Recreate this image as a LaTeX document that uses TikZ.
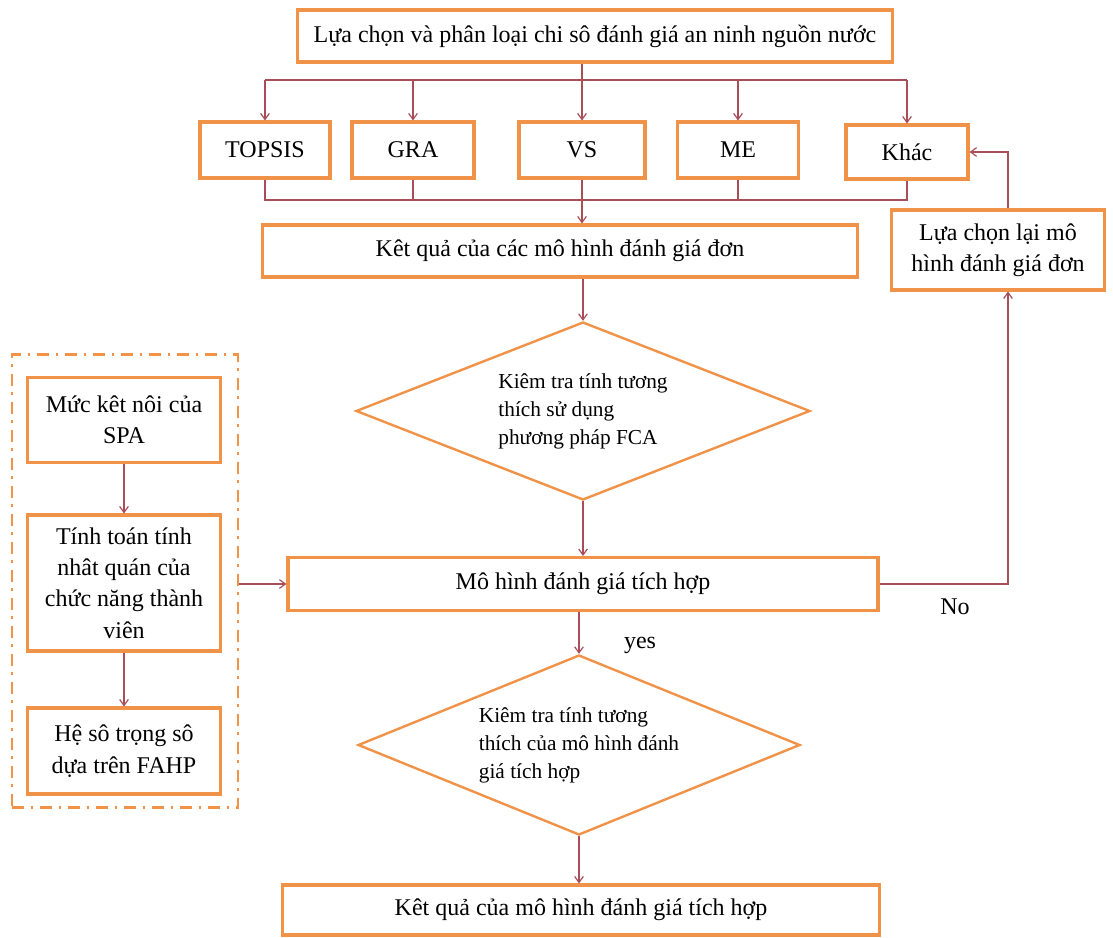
\documentclass[tikz,border=0pt]{standalone}
\usepackage{fontspec}
\setmainfont{Liberation Serif}
\usetikzlibrary{arrows.meta,shapes.geometric}
\definecolor{BoxClr}{RGB}{240,146,72}
\definecolor{LineClr}{RGB}{168,78,88}

\begin{document}
\begin{tikzpicture}[x=0.75pt,y=-0.75pt,
  size/.style 2 args={minimum width=#1*0.75pt,minimum height=#2*0.75pt},
  box/.style={draw=BoxClr,line width=2.3pt,fill=white,align=center,inner sep=1pt,
    font=\fontsize{18}{23.5}\selectfont},
  choice/.style={diamond,aspect=2.5,draw=BoxClr,line width=1.8pt,align=left,inner sep=0pt,
    font=\fontsize{16}{21}\selectfont},
  group/.style={draw=BoxClr,line width=1.6pt,dash pattern=on 9pt off 5pt on 2pt off 5pt},
  wire/.style={draw=LineClr,line width=0.9pt},
  link/.style={wire,-{Straight Barb[length=4.5pt,width=6.5pt]}},
  note/.style={font=\fontsize{18}{22}\selectfont}]
\useasboundingbox (0,0) rectangle (1113,938);

\node[box,size={595}{52}] (Sel) at (595,36) {Lựa chọn và phân loại chi sô đánh giá an ninh nguồn nước};

\node[box,size={130}{56}] (Tp) at (265,150) {TOPSIS};
\node[box,size={122}{56}] (Gr) at (413,150) {GRA};
\node[box,size={126}{56}] (Vs) at (582,150) {VS};
\node[box,size={121}{56}] (Me) at (738,150) {ME};
\node[box,size={122}{54}] (Kh) at (907,152) {Khác};

\node[box,size={595}{52}] (KQ) at (560,251) {Kêt quả của các mô hình đánh giá đơn};
\node[box,size={213}{80}] (LC) at (998,250) {Lựa chọn lại mô\\hình đánh giá đơn};

\node[choice,size={454}{178}] (D1) at (583,411) {Kiêm tra tính tương\\thích sử dụng\\phương pháp FCA};
\node[box,size={590}{53}] (MH) at (583,584) {Mô hình đánh giá tích hợp};
\node[choice,size={442}{180}] (D2) at (579,745) {Kiêm tra tính tương\\thích của mô hình đánh\\giá tích hợp};
\node[box,size={597}{50}] (FK) at (581,910) {Kêt quả của mô hình đánh giá tích hợp};

\node[group,size={226}{453}] (Frame) at (125,581) {};
\node[box,size={193}{85}] (M1) at (124,420) {Mức kêt nôi của\\SPA};
\node[box,size={193}{136}] (M2) at (124,583) {Tính toán tính\\nhât quán của\\chức năng thành\\viên};
\node[box,size={193}{86}] (M3) at (124,751) {Hệ sô trọng sô\\dựa trên FAHP};

\coordinate (Fan) at (582,80);
\coordinate (Join) at (582,200);
\coordinate (Ret) at (1008,583);

\draw[wire] (Tp.north |- Fan) -- (Kh.north |- Fan);
\draw[link] (Sel.south -| Fan) -- (Vs.north);
\foreach \m in {Tp,Gr,Me,Kh}
  \draw[link] (\m.north |- Fan) -- (\m.north);

\draw[wire] (Tp.south) |- (Kh.south |- Join) -- (Kh.south);
\foreach \m in {Gr,Me}
  \draw[wire] (\m.south) -- (\m.south |- Join);
\draw[link] (Vs.south) -- (KQ.north -| Vs.south);

\draw[link] (KQ.south -| D1.north) -- (D1.north);
\draw[link] (D1.south) -- (MH.north -| D1.south);
\draw[link] (MH.south -| D2.north) -- (D2.north);
\draw[link] (D2.south) -- (FK.north -| D2.south);

\draw[link] (MH.east) -| (Ret |- LC.south);
\draw[link] (Ret |- LC.north) |- (Kh.east);

\draw[link] (M1.south) -- (M2.north);
\draw[link] (M2.south) -- (M3.north);
\draw[link] (Frame.east |- MH.west) -- (MH.west);

\node[note] (No) at (955,607) {No};
\node[note] (Yes) at (640,645) {yes};

\end{tikzpicture}
\end{document}
